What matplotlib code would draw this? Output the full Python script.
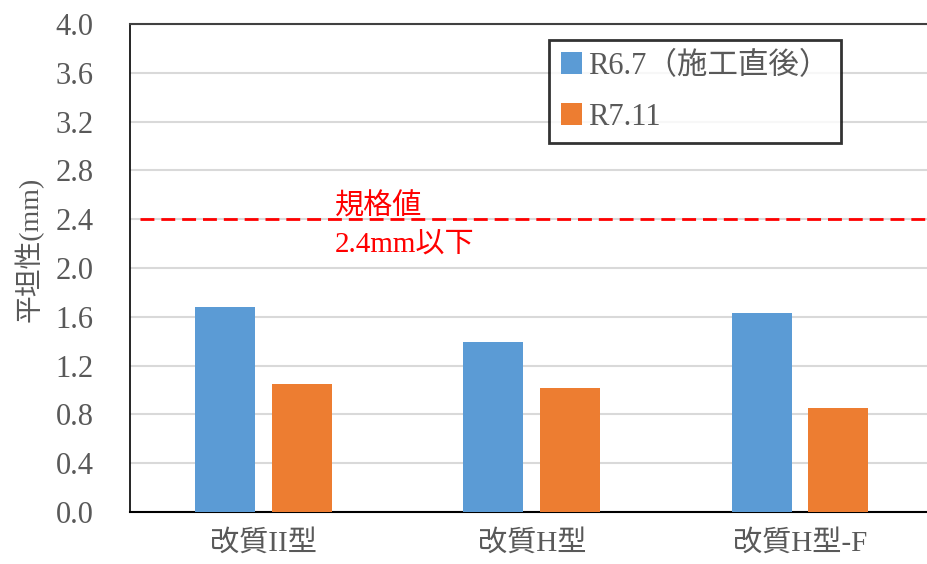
import matplotlib
matplotlib.use("Agg")
import matplotlib.pyplot as plt
import numpy as np

categories = ["改質II型", "改質H型", "改質H型-F"]
series_names = ["R6.7（施工直後）", "R7.11"]
values_r67 = [1.68, 1.39, 1.63]
values_r711 = [1.05, 1.02, 0.85]
spec_value = 2.4
spec_text = "規格値\n2.4mm以下"
yticks = [0.0, 0.4, 0.8, 1.2, 1.6, 2.0, 2.4, 2.8, 3.2, 3.6, 4.0]

plt.rcParams['font.family'] = ['Liberation Serif', 'Noto Sans CJK JP']

W, H = 928, 564
fig = plt.figure(figsize=(W / 100, H / 100), dpi=100)
left, right, top, bottom = 129.5, 934.0, 24.0, 512.0
ax = fig.add_axes([left / W, (H - bottom) / H, (right - left) / W, (bottom - top) / H])

x = np.arange(len(categories))
bw = 0.224
off = 0.143
blue = "#5B9BD5"
orange = "#ED7D31"
ax.bar(x - off, values_r67, width=bw, color=blue, label=series_names[0], zorder=3)
ax.bar(x + off, values_r711, width=bw, color=orange, label=series_names[1], zorder=3)

ax.set_xlim(-0.5, 2.5)
ax.set_ylim(0, 4.0)
ax.set_yticks(yticks)
ax.set_yticklabels([f"{v:.1f}" for v in yticks])
ax.set_xticks(x)
ax.set_xticklabels(categories)
ax.tick_params(axis='both', length=0, labelsize=22, colors="#595959")
ax.tick_params(axis='x', labelsize=21, pad=13)
ax.tick_params(axis='y', pad=26)

ax.grid(axis='y', color="#D9D9D9", linewidth=1.5, zorder=0)
ax.set_axisbelow(True)
ax.spines['right'].set_visible(False)
ax.spines['top'].set_color("#404040")
ax.spines['top'].set_linewidth(1.5)
ax.spines['left'].set_color("#000000")
ax.spines['left'].set_linewidth(1.2)
ax.spines['bottom'].set_color("#000000")
ax.spines['bottom'].set_linewidth(1.5)

ax.axhline(spec_value, xmin=(140 - left) / (right - left), xmax=1.0, color="#FF0000",
           linewidth=2.0, linestyle=(0, (5, 2.5)), zorder=4)
ax.text(0.267, spec_value - 0.05, spec_text, color="#FF0000", fontsize=21,
        va='center', ha='left', linespacing=1.55, zorder=5)

ax.set_ylabel("平坦性(mm)", fontsize=20, color="#595959")
ax.yaxis.set_label_coords((44 - left) / (right - left), (bottom - 249) / (bottom - top))

leg = ax.legend(loc='upper left', bbox_to_anchor=(549 / W, 1 - 40 / H),
                bbox_transform=fig.transFigure, fontsize=22, frameon=True,
                fancybox=False, edgecolor="#000000", handlelength=0.7,
                handleheight=0.7, handletextpad=0.2, labelspacing=0.72,
                borderpad=0.38, borderaxespad=0)
leg.get_frame().set_linewidth(2.0)
for t in leg.get_texts():
    t.set_color("#595959")

fig.savefig("out.png", dpi=100)
